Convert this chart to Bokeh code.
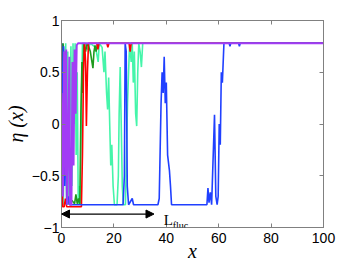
from bokeh.plotting import figure
from bokeh.models import LinearAxis, Label, Arrow, NormalHead, FixedTicker, Range1d
from bokeh.embed import file_html
from bokeh.resources import INLINE

# ---- data ----
aqua_x = [0, 0.3, 0.7, 1.2, 1.6, 2.0, 2.4, 2.8, 3.2, 3.6, 4.0, 4.4, 4.8, 5.2, 5.6, 6.0, 6.4, 6.8, 7.2, 7.6, 8.0, 9, 10, 11, 13, 14, 14.4, 15.5, 16.2, 16.6, 17.2, 17.6, 18.0, 18.4, 18.8, 19.2, 19.7, 20.2, 21.2, 21.7, 22.0, 22.4, 22.8, 23.2, 23.6, 24.4, 24.8, 25.2, 25.6, 26.0, 26.6, 27.0, 27.4, 27.8, 28.3, 28.7, 29.1, 29.5, 30, 30.5, 31, 100]
aqua_y = [-0.4, 0.6, -0.78, 0.3, 0.78, -0.5, 0.7, -0.78, 0.2, 0.75, -0.6, 0.78, 0.0, 0.78, -0.3, 0.5, -0.78, -0.6, -0.78, 0.2, 0.78, 0.78, 0.72, 0.78, 0.74, 0.6, 0.78, 0.74, 0.5, 0.7, 0.3, 0.14, 0.45, 0.0, -0.4, -0.2, -0.6, -0.78, -0.78, -0.5, 0.1, 0.55, 0.0, -0.6, -0.78, -0.78, -0.3, 0.2, 0.5, 0.78, 0.6, 0.78, 0.4, 0.7, 0.1, -0.02, 0.5, 0.78, 0.7, 0.55, 0.78, 0.78]

green_x = [0, 0.3, 0.6, 1.0, 1.3, 1.6, 2.0, 2.5, 3.0, 4.0, 5.0, 5.5, 6.0, 6.5, 7.0, 7.4, 7.8, 8.1, 8.5, 9.2, 9.8, 10.5, 11.0, 11.5, 12.0, 12.4, 12.8, 13.2, 13.8, 100]
green_y = [0.78, 0.5, 0.78, 0.6, -0.2, 0.7, -0.77, -0.72, -0.77, -0.74, -0.77, -0.68, -0.77, -0.72, -0.77, 0.1, 0.6, 0.3, 0.78, 0.7, 0.78, 0.74, 0.7, 0.62, 0.54, 0.7, 0.76, 0.7, 0.78, 0.78]

red_x = [0, 0.4, 1.0, 1.5, 2.0, 7.6, 8.0, 8.4, 8.8, 9.2, 9.5, 9.9, 10.3, 13.5, 13.9, 14.3, 17.3, 17.7, 18.1, 25.8, 26.2, 26.6, 100]
red_y = [0.5, -0.8, -0.8, -0.72, -0.8, -0.8, -0.3, 0.5, 0.78, 0.6, -0.02, 0.5, 0.78, 0.78, 0.72, 0.78, 0.78, 0.74, 0.78, 0.78, 0.7, 0.78, 0.78]

blue_x = [0, 0.4, 0.8, 1.2, 1.6, 2.0, 2.6, 3.0, 23.5, 24.0, 24.3, 24.7, 25.1, 25.6, 27.0, 27.5, 36.8, 37.3, 38.0, 38.4, 38.8, 39.2, 39.6, 40.0, 40.5, 41.2, 41.6, 42.0, 55.5, 55.9, 56.3, 56.8, 57.3, 58.4, 58.9, 59.4, 59.8, 60.2, 60.6, 61.0, 61.4, 62.0, 64.0, 64.3, 64.6, 67.6, 67.9, 68.2, 100]
blue_y = [0.78, -0.3, 0.75, -0.6, 0.2, -0.78, -0.7, -0.78, -0.78, -0.5, 0.78, 0.7, -0.6, -0.78, -0.72, -0.78, -0.78, -0.72, 0.2, 0.5, 0.3, 0.65, 0.2, 0.4, -0.3, -0.45, -0.6, -0.78, -0.78, -0.62, -0.76, -0.66, -0.78, 0.09, -0.7, -0.78, -0.7, 0.0, -0.2, 0.5, 0.4, 0.78, 0.78, 0.75, 0.78, 0.78, 0.75, 0.78, 0.78]

purple_x = [0, 0.5, 1.0, 1.4, 1.8, 2.2, 2.6, 3.0, 3.3, 3.8, 4.2, 4.6, 5.0, 5.4, 5.8, 6.3, 100]
purple_y = [0.3, -0.7, 0.7, -0.5, 0.72, -0.78, -0.2, 0.65, -0.78, -0.78, 0.6, -0.4, 0.72, 0.1, 0.76, 0.78, 0.78]

x_ticks = [0, 20, 40, 60, 80, 100]
y_ticks = [-1, -0.5, 0, 0.5, 1]
y_tick_labels = ["\u22121", "\u22120.5", "0", "0.5", "1"]

arrow_x = [0, 35.3]
arrow_y = -0.87
lfluc_x = 39.0
lfluc_y = -0.93

# ---- figure ----
p = figure(width=357, height=265, output_backend="svg", toolbar_location=None,
           x_range=Range1d(0, 100), y_range=Range1d(-1, 1),
           min_border_left=61, min_border_right=34, min_border_top=20, min_border_bottom=38)
p.background_fill_color = "white"
p.border_fill_color = "white"
p.outline_line_color = "#808080"
p.grid.visible = False

frame_col = "#808080"
tick_font = "Liberation Sans"

p.xaxis.ticker = FixedTicker(ticks=x_ticks)
p.yaxis.ticker = FixedTicker(ticks=y_ticks)
p.yaxis.major_label_overrides = {t: l for t, l in zip(y_ticks, y_tick_labels)}
for ax in (p.xaxis[0], p.yaxis[0]):
    ax.axis_line_color = frame_col
    ax.major_tick_line_color = frame_col
    ax.major_tick_in = 4
    ax.major_tick_out = 0
    ax.minor_tick_line_color = None
    ax.major_label_text_font = tick_font
    ax.major_label_text_font_size = "14px"
    ax.major_label_text_color = "black"
    ax.axis_label_text_font = "Liberation Serif"
    ax.axis_label_text_font_style = "italic"
    ax.axis_label_text_font_size = "20px"
    ax.axis_label_text_color = "black"
p.xaxis.major_label_standoff = 5
p.yaxis.major_label_standoff = 2
p.xaxis.axis_label = "x"
p.yaxis.axis_label = "\u03b7 (x)"
p.xaxis.axis_label_standoff = -6
p.yaxis.axis_label_standoff = 2

top = LinearAxis(ticker=FixedTicker(ticks=x_ticks))
right = LinearAxis(ticker=FixedTicker(ticks=y_ticks))
for ax in (top, right):
    ax.axis_line_color = frame_col
    ax.major_tick_line_color = frame_col
    ax.major_tick_in = 4
    ax.major_tick_out = 0
    ax.minor_tick_line_color = None
    ax.major_label_text_font_size = "0px"
    ax.major_label_text_color = None
    ax.major_label_standoff = 0
p.add_layout(top, "above")
p.add_layout(right, "right")

lw = 1.6
p.line(aqua_x, aqua_y, line_color="#45f5aa", line_width=lw)
p.line(green_x, green_y, line_color="#1e9a1e", line_width=lw)
p.line(red_x, red_y, line_color="#ff0000", line_width=lw)
p.line(blue_x, blue_y, line_color="#2040ff", line_width=lw)
p.line(purple_x, purple_y, line_color="#a23cf5", line_width=2.0)

p.add_layout(Arrow(start=NormalHead(size=8, fill_color="black", line_color="black"),
                   end=NormalHead(size=8, fill_color="black", line_color="black"),
                   x_start=arrow_x[0], y_start=arrow_y, x_end=arrow_x[1], y_end=arrow_y,
                   line_color="black", line_width=1.2))

p.add_layout(Label(x=lfluc_x, y=lfluc_y, text="L", text_font="Liberation Serif",
                   text_font_size="15px", text_color="black", text_baseline="alphabetic"))
p.add_layout(Label(x=lfluc_x, y=lfluc_y, x_offset=9, y_offset=-5, text="fluc",
                   text_font="Liberation Serif", text_font_size="10px", text_color="black",
                   text_baseline="alphabetic"))

open("out.html", "w").write(file_html(p, INLINE))
